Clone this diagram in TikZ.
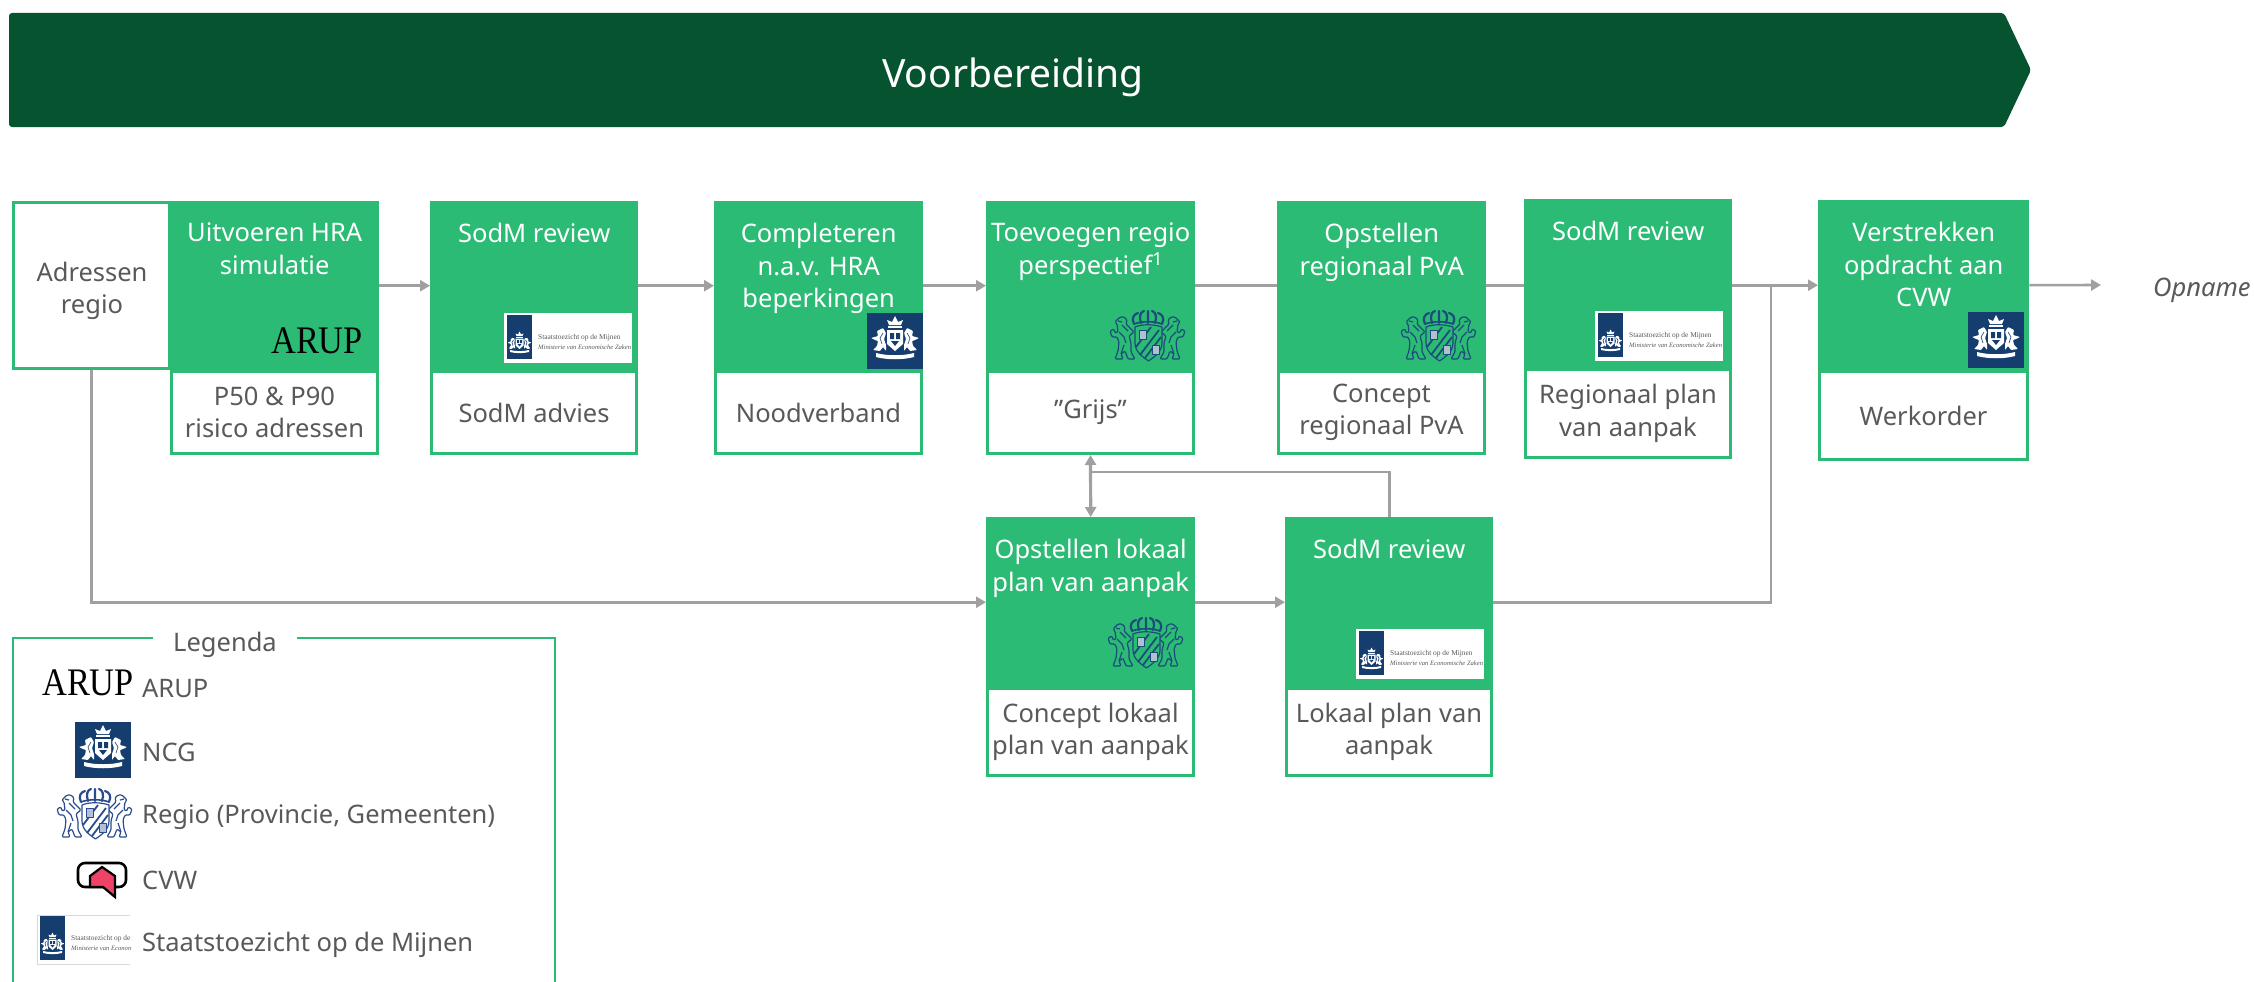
\documentclass[tikz,border=0pt]{standalone}
\usepackage{fontspec}
\setmainfont{Noto Sans}
\newfontfamily\logoserif{Liberation Serif}
\usetikzlibrary{arrows.meta}
\definecolor{procgreen}{HTML}{2BBB75}
\definecolor{darkgreen}{HTML}{05532F}
\definecolor{txtgrey}{HTML}{595959}
\definecolor{linegrey}{HTML}{A0A0A0}
\definecolor{rijksblue}{HTML}{153E6F}
\definecolor{crestdark}{HTML}{1B4C7A}
\definecolor{crestblue}{HTML}{2A4C8E}
\definecolor{cvwpink}{HTML}{EE4267}
\tikzset{
  x=1pt,y=-1pt,
  bodyfont/.style={font=\fontsize{25.5}{32.5}\selectfont},
  headbox/.style={fill=procgreen,draw=none,inner sep=0pt,anchor=north west},
  outbox/.style={fill=white,draw=procgreen,line width=3pt,inner sep=0pt,anchor=north west,align=center,text=txtgrey,bodyfont},
  titletext/.style={text=white,align=center,anchor=north,inner sep=0pt,bodyfont},
  conn/.style={draw=linegrey,line width=2.6pt},
  arr/.style={conn,-{Triangle[length=10pt,width=11pt]}},
  arrboth/.style={conn,line width=3.2pt,{Triangle[length=10pt,width=11pt]}-{Triangle[length=10pt,width=11pt]}},
  legtext/.style={text=txtgrey,anchor=west,inner sep=0pt,bodyfont},
  aruplogo/.style={inner sep=0pt,text=black,font=\fontsize{39}{39}\logoserif},
}
% name, left, top, split, bottom, right, title, output
\newcommand{\procbox}[8]{%
  \pgfmathsetmacro{\wA}{#6-#2}\pgfmathsetmacro{\hA}{#4-#3}\pgfmathsetmacro{\wB}{#6-#2-3}\pgfmathsetmacro{\hB}{#5-#4-3}%
  \node[headbox,minimum width=\wA pt,minimum height=\hA pt] (#1) at (#2,#3) {};
  \node[titletext] (#1t) at ([yshift=-22pt]#1.north) {#7};
  \node[outbox,minimum width=\wB pt,minimum height=\hB pt] (#1o) at (#2,#4) {#8};
}
\newcommand{\lionpath}{(11,7) -- (15,7) -- (18,10) -- (17,14) -- (20,17) -- (25,22) -- (20,26) -- (22,33) -- (22,42) -- (26,49) -- (19,49) -- (16,41) -- (12,44) -- (14,49) -- (6,49) -- (9,41) -- (10,32) -- (8,27) -- (3,27) -- (1,21) -- (5,19) -- (6,23) -- (9,22) -- (8,14) -- (6,12) -- cycle}
\newcommand{\liondetail}{(10,22) -- (15,27) -- (17,33) (12,44) -- (15,35) (9,11) -- (13,12) (13,15) -- (19,21)}
% x, y, colour, shield fill
\newcommand{\regiocrest}[4]{%
  \begin{scope}[shift={(#1,#2)},draw=#3,line width=1.2pt,line join=round]
    \draw[rounded corners=1.2pt] \lionpath;
    \draw \liondetail;
    \begin{scope}[shift={(77,0)},xscale=-1]
      \draw[rounded corners=1.2pt] \lionpath;
      \draw \liondetail;
    \end{scope}
    \draw[fill=#4] (26,17) .. controls (33,14) and (44,14) .. (53,17) -- (53,33) .. controls (53,42) and (45,47) .. (39.5,51) .. controls (34,47) and (26,42) .. (26,33) -- cycle;
    \draw[line width=1.8pt] (31,45) -- (50,20) (36,48) -- (52,27) (27,37) -- (42,17);
    \fill[#3!35] (30,20) rectangle (37,29) (43,35) rectangle (50,44);
    \draw[line width=0.8pt] (30,20) rectangle (37,29) (43,35) rectangle (50,44);
    \draw[line width=2.2pt,line cap=round] (25,14) .. controls (22,8) and (25,4) .. (29,3)
      (32,13) .. controls (30,7) and (31,2) .. (35,1) (39,13) -- (39,1)
      (46,13) .. controls (48,7) and (47,2) .. (43,1) (53,14) .. controls (56,8) and (53,4) .. (49,3);
    \draw[line width=1.6pt] (25,14) .. controls (33,11) and (45,11) .. (53,14);
  \end{scope}}
% centre x, y, scale: the white royal arms
\newcommand{\ncgart}[3]{%
  \begin{scope}[shift={(#1,#2)},scale=#3,line join=round]
    \fill[white] (-6,-16) -- (-8,-21) -- (-3,-19) -- (0,-25) -- (3,-19) -- (8,-21) -- (6,-16) -- cycle;
    \fill[white] (-7,-15) rectangle (7,-13);
    \fill[white] (-8,-11) -- (8,-11) -- (8,3) -- (0,10) -- (-8,3) -- cycle;
    \fill[rijksblue] (-5,-8) rectangle (-1,-2) (1,-8) rectangle (5,-2) (-4,0) -- (4,0) -- (0,5) -- cycle;
    \foreach \s in {-1,1}{
      \fill[white,rounded corners=0.8pt] (\s*9,-8) -- (\s*12,-13) -- (\s*18,-10) -- (\s*17,-5) -- (\s*24,-3) -- (\s*20,-1) -- (\s*17,0) -- (\s*18,5) -- (\s*22,9) -- (\s*15,10) -- (\s*12,6) -- (\s*9,10) -- (\s*9,4) -- (\s*11,-2) -- cycle;
      \draw[rijksblue,line width=0.6pt] (\s*12,-8) -- (\s*15,-3) -- (\s*13,3);
    }
    \fill[white] (-19,12) .. controls (-8,15) and (8,15) .. (19,12) -- (19,16) .. controls (8,19) and (-8,19) .. (-19,16) -- cycle;
  \end{scope}}
% name, x, y (128x50 logo)
\newcommand{\sodmlogo}[3]{%
  \fill[white] (#2,#3) rectangle +(128,50);
  \fill[rijksblue] (#2+3,#3+2) rectangle +(25,44);
  \ncgart{#2+15.5}{#3+31}{0.5}
  \node[inner sep=0pt,anchor=west,text=txtgrey,font=\fontsize{7.4}{8}\logoserif] (#1a) at (#2+34,#3+25) {Staatstoezicht op de Mijnen};
  \node[inner sep=0pt,anchor=west,text=txtgrey,font=\fontsize{6.6}{8}\logoserif\itshape] (#1b) at (#2+34,#3+34) {Ministerie van Economische Zaken};
}
\newcommand{\ncglogo}[3]{%
  \fill[rijksblue] (#1,#2) rectangle +(#3,#3);
  \pgfmathsetmacro{\sc}{#3/56}%
  \ncgart{#1+#3/2}{#2+#3/2}{\sc}
}
\begin{document}
\begin{tikzpicture}
\useasboundingbox (0,0) rectangle (2254,982);
% header
\fill[darkgreen,rounded corners=3pt] (9,13) -- (2004,13) -- (2031,70) -- (2004,127) -- (9,127) -- cycle;
\node[text=white,font=\fontsize{39}{44}\selectfont,inner sep=0pt] (hdr) at (1013,77) {Voorbereiding};
% input box
\node[fill=white,draw=procgreen,line width=3pt,inner sep=0pt,anchor=north west,minimum width=156pt,minimum height=166pt] (adr) at (12,201) {};
\node[text=txtgrey,align=center,inner sep=0pt,bodyfont] (adrt) at (92,291) {Adressen\\regio};
% process boxes
\procbox{bA}{170}{201}{370}{455}{379}{Uitvoeren HRA\\simulatie}{P50 \& P90\\risico adressen}
\procbox{bB}{430}{201}{370}{455}{638}{SodM review}{SodM advies}
\procbox{bC}{714}{201}{370}{455}{923}{Completeren\\n.a.v. HRA\\beperkingen}{Noodverband}
\procbox{bD}{986}{201}{370}{455}{1195}{Toevoegen regio\\perspectief\textsuperscript{1}}{"Grijs"}
\procbox{bE}{1277}{201}{370}{455}{1486}{Opstellen\\regionaal PvA}{Concept\\regionaal PvA}
\procbox{bF}{1524}{199}{368}{459}{1732}{SodM review}{Regionaal plan\\van aanpak}
\procbox{bG}{1818}{200}{370}{461}{2029}{Verstrekken\\opdracht aan\\CVW}{Werkorder}
\procbox{bH}{986}{517}{687}{777}{1195}{Opstellen lokaal\\plan van aanpak}{Concept lokaal\\plan van aanpak}
\procbox{bI}{1285}{517}{687}{777}{1493}{SodM review}{Lokaal plan van\\aanpak}
% logos in boxes
\node[aruplogo,anchor=south east] (arupA) at (363,354) {\scalebox{0.88}[1]{ARUP}};
\sodmlogo{sA}{504}{313}
\ncglogo{867}{313}{56}
\regiocrest{1109}{310}{crestdark}{procgreen}
\regiocrest{1400}{310}{crestdark}{procgreen}
\sodmlogo{sB}{1595}{311}
\ncglogo{1968}{312}{56}
\regiocrest{1107}{617}{crestdark}{procgreen}
\sodmlogo{sC}{1356}{629}
% connectors
\coordinate (merge) at (1771,285);
\coordinate (opn) at (2101,285);
\coordinate (fb) at (1091,472);
\draw[arr] (bA.east) -- (bB.west);
\draw[arr] (bB.east) -- (bC.west);
\draw[arr] (bC.east) -- (bD.west);
\draw[conn] (bD.east) -- (bE.west);
\draw[conn] (bE.east) -- (bE.east -| bF.west);
\draw[arr] (bF.east |- bG.west) -- (bG.west);
\draw[arr] (bG.east) -- (opn);
\draw[arr] (adr.south) |- (bH.west);
\draw[arr] (bH.east) -- (bH.east -| bI.west);
\draw[arrboth] (bDo.south) -- (bH.north);
\draw[conn] (bI.north) |- (fb);
\draw[conn] (bI.east) -| (merge);
\node[text=txtgrey,anchor=west,inner sep=0pt,font=\fontsize{25.5}{32}\selectfont\itshape] (opname) at (2153,290) {Opname};
% legend
\node[text=txtgrey,inner sep=0pt,bodyfont] (leg) at (225,645) {Legenda};
\draw[procgreen,line width=2.4pt] (153,638) -- (13,638) -- (13,982);
\draw[procgreen,line width=2.4pt] (297,638) -- (555,638) -- (555,982);
\node[aruplogo,anchor=south east] (arupB) at (134,696) {\scalebox{0.88}[1]{ARUP}};
\node[legtext] (lA) at (142,688) {ARUP};
\ncglogo{75}{722}{56}
\node[legtext] (lB) at (142,752) {NCG};
\regiocrest{56}{788}{crestblue}{white}
\node[legtext] (lC) at (142,817) {Regio (Provincie, Gemeenten)};
\draw[black,line width=2.6pt,fill=white,rounded corners=7pt] (78,863) rectangle (126,887);
\draw[black,line width=2.2pt,fill=cvwpink,line join=miter] (90,876) -- (102,867) -- (115,876) -- (115,897) -- (103,887) -- (90,887) -- cycle;
\node[legtext] (lD) at (142,880) {CVW};
\begin{scope}
  \clip (30,905) rectangle (130,975);
  \sodmlogo{sD}{37}{914}
  \draw[black!15,line width=0.8pt] (37,915) rectangle (170,964);
\end{scope}
\node[legtext] (lE) at (142,945) {Staatstoezicht op de Mijnen};
\end{tikzpicture}
\end{document}
